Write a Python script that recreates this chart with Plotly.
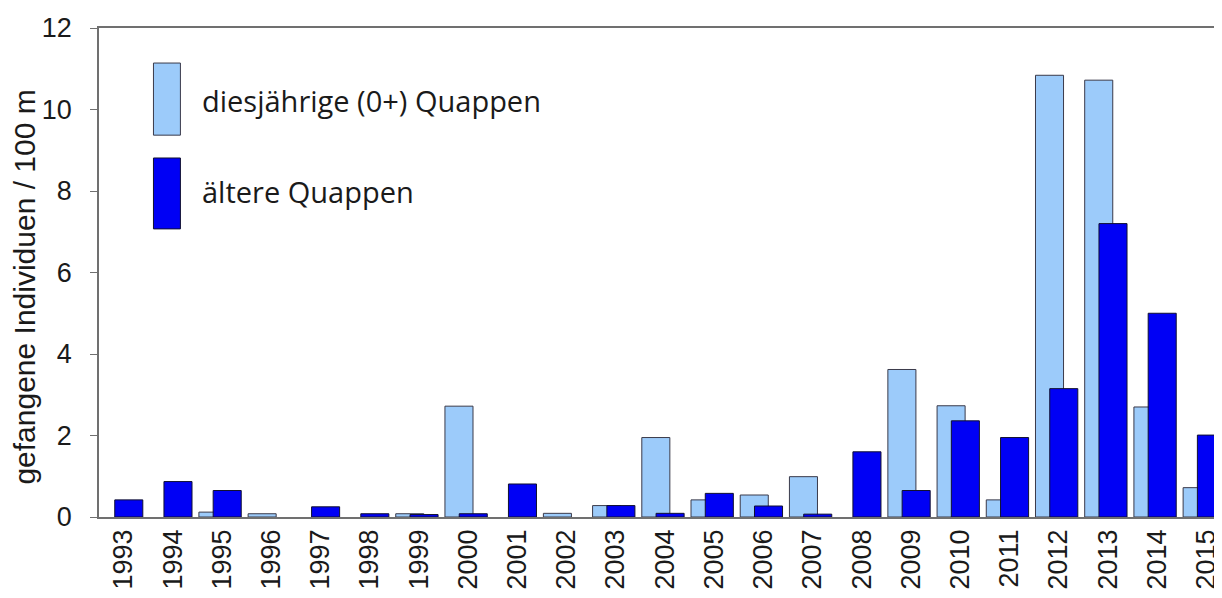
import plotly.graph_objects as go

years = [str(y) for y in range(1993, 2016)]
juvenile_0plus = [0, 0, 0.12, 0.08, 0, 0, 0.08, 2.72, 0, 0.09, 0.28, 1.95, 0.42, 0.54,
                  0.99, 0, 3.62, 2.73, 0.42, 10.84, 10.72, 2.70, 0.72]
older = [0.42, 0.87, 0.65, 0, 0.25, 0.08, 0.06, 0.08, 0.81, 0, 0.28, 0.09, 0.58, 0.27,
         0.07, 1.60, 0.65, 2.36, 1.95, 3.15, 7.20, 5.00, 2.01]
y_ticks = [0, 2, 4, 6, 8, 10, 12]
legend_labels = ["diesjährige (0+) Quappen", "ältere Quappen"]
y_title = "gefangene Individuen / 100 m"

light = "#9CCBFA"
dark = "#0000F5"
outline = "#3a3a4a"


def hide_zero(values):
    return [v if v > 0 else None for v in values]


fig = go.Figure()
fig.add_trace(go.Bar(x=years, y=hide_zero(juvenile_0plus), name=legend_labels[0],
                     marker=dict(color=light, line=dict(color=outline, width=1)),
                     offset=-0.47, width=0.57))
fig.add_trace(go.Bar(x=years, y=hide_zero(older), name=legend_labels[1],
                     marker=dict(color=dark, line=dict(color="#101030", width=1)),
                     offset=-0.18, width=0.57))

# legend swatches (drawn manually to match tall rectangles)
fig.add_shape(type="rect", xref="paper", yref="y", x0=0.0485, x1=0.0725, y0=9.37, y1=11.14,
              fillcolor=light, line=dict(color=outline, width=1))
fig.add_shape(type="rect", xref="paper", yref="y", x0=0.0485, x1=0.0725, y0=7.07, y1=8.81,
              fillcolor=dark, line=dict(color="#101030", width=1))
fig.add_annotation(xref="paper", yref="y", x=0.0895, y=10.23, text=legend_labels[0],
                   showarrow=False, xanchor="left", yanchor="middle",
                   font=dict(family="Open Sans", size=29, color="#1a1a1a"))
fig.add_annotation(xref="paper", yref="y", x=0.0895, y=7.98, text=legend_labels[1],
                   showarrow=False, xanchor="left", yanchor="middle",
                   font=dict(family="Open Sans", size=29, color="#1a1a1a"))
fig.add_annotation(xref="paper", yref="paper", x=-0.0664, y=0.47, text=y_title,
                   textangle=-90, showarrow=False, xanchor="center", yanchor="middle",
                   font=dict(size=30, color="#1a1a1a"))

# page body adds an 8px offset; figure is sized to fit the window
fig.update_layout(
    width=1214, height=590,
    margin=dict(l=91, r=0, t=20, b=81),
    paper_bgcolor="white", plot_bgcolor="white",
    barmode="overlay", showlegend=False,
    font=dict(family="Liberation Sans, Arial", color="#1a1a1a"),
)
fig.update_xaxes(type="category", range=[-0.5, 22.32], tickangle=-90, automargin=False,
                 tickfont=dict(size=27), showline=True, linecolor="#707070", linewidth=1.5,
                 mirror=True, ticks="", showgrid=False)
fig.update_yaxes(range=[0, 12], tickvals=y_ticks, tickfont=dict(size=27), automargin=False,
                 showline=True, linecolor="#707070", linewidth=1.5, ticks="outside",
                 ticklen=7, tickcolor="#707070", showgrid=False, zeroline=False,
                 ticklabelstandoff=13)

fig.write_html("out.html")
